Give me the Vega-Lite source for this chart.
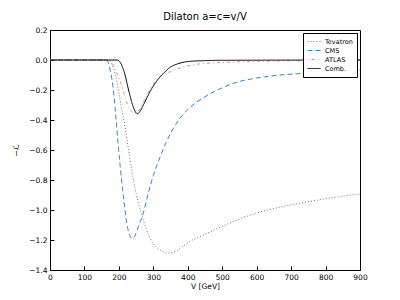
{
  "$schema": "https://vega.github.io/schema/vega-lite/v6.json",
  "width": 310,
  "height": 240,
  "autosize": "none",
  "padding": {"left": 50, "top": 30, "right": 40, "bottom": 30},
  "background": "white",
  "config": {
    "font": "DejaVu Sans",
    "view": {"stroke": "black", "strokeWidth": 1}
  },
  "title": {"text": "Dilaton a=c=v/V", "fontSize": 10, "fontWeight": "normal", "font": "DejaVu Sans", "offset": 4, "color": "black"},
  "data": {
    "values": [
      {"V": 0, "y": 0, "s": "Tevatron"},
      {"V": 160, "y": 0, "s": "Tevatron"},
      {"V": 170, "y": -0.003, "s": "Tevatron"},
      {"V": 180, "y": -0.03, "s": "Tevatron"},
      {"V": 190, "y": -0.1, "s": "Tevatron"},
      {"V": 200, "y": -0.22, "s": "Tevatron"},
      {"V": 210, "y": -0.35, "s": "Tevatron"},
      {"V": 218, "y": -0.45, "s": "Tevatron"},
      {"V": 228, "y": -0.6, "s": "Tevatron"},
      {"V": 237, "y": -0.73, "s": "Tevatron"},
      {"V": 250, "y": -0.89, "s": "Tevatron"},
      {"V": 260, "y": -0.98, "s": "Tevatron"},
      {"V": 271, "y": -1.067, "s": "Tevatron"},
      {"V": 285, "y": -1.16, "s": "Tevatron"},
      {"V": 300, "y": -1.225, "s": "Tevatron"},
      {"V": 320, "y": -1.268, "s": "Tevatron"},
      {"V": 343, "y": -1.287, "s": "Tevatron"},
      {"V": 365, "y": -1.275, "s": "Tevatron"},
      {"V": 387, "y": -1.24, "s": "Tevatron"},
      {"V": 400, "y": -1.218, "s": "Tevatron"},
      {"V": 435, "y": -1.178, "s": "Tevatron"},
      {"V": 480, "y": -1.13, "s": "Tevatron"},
      {"V": 531, "y": -1.078, "s": "Tevatron"},
      {"V": 600, "y": -1.02, "s": "Tevatron"},
      {"V": 650, "y": -0.99, "s": "Tevatron"},
      {"V": 726, "y": -0.955, "s": "Tevatron"},
      {"V": 800, "y": -0.925, "s": "Tevatron"},
      {"V": 900, "y": -0.893, "s": "Tevatron"},

      {"V": 0, "y": 0, "s": "CMS"},
      {"V": 160, "y": 0, "s": "CMS"},
      {"V": 168, "y": -0.01, "s": "CMS"},
      {"V": 174, "y": -0.06, "s": "CMS"},
      {"V": 180, "y": -0.13, "s": "CMS"},
      {"V": 185, "y": -0.22, "s": "CMS"},
      {"V": 192, "y": -0.4, "s": "CMS"},
      {"V": 203, "y": -0.69, "s": "CMS"},
      {"V": 213, "y": -0.91, "s": "CMS"},
      {"V": 223, "y": -1.09, "s": "CMS"},
      {"V": 230, "y": -1.16, "s": "CMS"},
      {"V": 238, "y": -1.19, "s": "CMS"},
      {"V": 246, "y": -1.175, "s": "CMS"},
      {"V": 255, "y": -1.12, "s": "CMS"},
      {"V": 271, "y": -1.02, "s": "CMS"},
      {"V": 285, "y": -0.89, "s": "CMS"},
      {"V": 300, "y": -0.77, "s": "CMS"},
      {"V": 320, "y": -0.645, "s": "CMS"},
      {"V": 339, "y": -0.54, "s": "CMS"},
      {"V": 372, "y": -0.405, "s": "CMS"},
      {"V": 400, "y": -0.33, "s": "CMS"},
      {"V": 450, "y": -0.245, "s": "CMS"},
      {"V": 500, "y": -0.185, "s": "CMS"},
      {"V": 547, "y": -0.145, "s": "CMS"},
      {"V": 600, "y": -0.12, "s": "CMS"},
      {"V": 660, "y": -0.102, "s": "CMS"},
      {"V": 726, "y": -0.09, "s": "CMS"},
      {"V": 800, "y": -0.079, "s": "CMS"},
      {"V": 900, "y": -0.068, "s": "CMS"},

      {"V": 0, "y": 0, "s": "ATLAS"},
      {"V": 170, "y": 0, "s": "ATLAS"},
      {"V": 180, "y": -0.02, "s": "ATLAS"},
      {"V": 190, "y": -0.067, "s": "ATLAS"},
      {"V": 200, "y": -0.12, "s": "ATLAS"},
      {"V": 208, "y": -0.17, "s": "ATLAS"},
      {"V": 218, "y": -0.25, "s": "ATLAS"},
      {"V": 232, "y": -0.33, "s": "ATLAS"},
      {"V": 245, "y": -0.355, "s": "ATLAS"},
      {"V": 255, "y": -0.345, "s": "ATLAS"},
      {"V": 271, "y": -0.28, "s": "ATLAS"},
      {"V": 290, "y": -0.2, "s": "ATLAS"},
      {"V": 310, "y": -0.13, "s": "ATLAS"},
      {"V": 348, "y": -0.08, "s": "ATLAS"},
      {"V": 387, "y": -0.047, "s": "ATLAS"},
      {"V": 435, "y": -0.026, "s": "ATLAS"},
      {"V": 484, "y": -0.018, "s": "ATLAS"},
      {"V": 581, "y": -0.01, "s": "ATLAS"},
      {"V": 726, "y": -0.005, "s": "ATLAS"},
      {"V": 900, "y": -0.003, "s": "ATLAS"},

      {"V": 0, "y": 0, "s": "Comb."},
      {"V": 195, "y": 0, "s": "Comb."},
      {"V": 203, "y": -0.013, "s": "Comb."},
      {"V": 210, "y": -0.045, "s": "Comb."},
      {"V": 218, "y": -0.1, "s": "Comb."},
      {"V": 225, "y": -0.17, "s": "Comb."},
      {"V": 232, "y": -0.235, "s": "Comb."},
      {"V": 242, "y": -0.315, "s": "Comb."},
      {"V": 254, "y": -0.358, "s": "Comb."},
      {"V": 262, "y": -0.34, "s": "Comb."},
      {"V": 271, "y": -0.3, "s": "Comb."},
      {"V": 290, "y": -0.213, "s": "Comb."},
      {"V": 310, "y": -0.14, "s": "Comb."},
      {"V": 330, "y": -0.088, "s": "Comb."},
      {"V": 348, "y": -0.05, "s": "Comb."},
      {"V": 370, "y": -0.026, "s": "Comb."},
      {"V": 390, "y": -0.014, "s": "Comb."},
      {"V": 420, "y": -0.007, "s": "Comb."},
      {"V": 500, "y": -0.002, "s": "Comb."},
      {"V": 900, "y": 0, "s": "Comb."}
    ]
  },
  "layer": [
    {
      "mark": {"type": "line", "strokeWidth": 1, "interpolate": "monotone", "clip": true},
      "encoding": {
        "x": {
          "field": "V", "type": "quantitative",
          "scale": {"domain": [0, 900], "nice": false, "zero": false},
          "axis": {"title": "V [GeV]", "values": [0,100,200,300,400,500,600,700,800,900], "grid": false, "domain": false, "tickSize": -4, "tickColor": "black", "labelPadding": 7, "labelFontSize": 7.5, "labelColor": "black", "titleFontSize": 7.5, "titleFontWeight": "normal", "titleColor": "black", "titlePadding": 2, "labelFlush": false}
        },
        "y": {
          "field": "y", "type": "quantitative",
          "scale": {"domain": [-1.4, 0.2], "nice": false, "zero": false},
          "axis": {"title": "−ℒ", "values": [-1.4,-1.2,-1.0,-0.8,-0.6,-0.4,-0.2,0.0,0.2], "format": ".1f", "grid": false, "domain": false, "tickSize": -4, "tickColor": "black", "labelPadding": 7, "labelFontSize": 7.5, "labelColor": "black", "titleFontSize": 8, "titleFontWeight": "normal", "titleColor": "black", "titlePadding": 8, "labelFlush": false}
        },
        "color": {
          "field": "s", "type": "nominal",
          "scale": {"domain": ["Tevatron", "CMS", "ATLAS", "Comb."], "range": ["#707070", "#3f84c4", "#e88a8a", "#000000"]},
          "legend": {
            "title": null, "orient": "top-right", "offset": 3,
            "strokeColor": "black", "fillColor": "white", "padding": 4,
            "labelFontSize": 6.5, "labelColor": "black", "symbolType": "stroke",
            "symbolSize": 169, "symbolStrokeWidth": 1, "rowPadding": 0, "clipHeight": 9, "labelOffset": 4, "cornerRadius": 0
          }
        },
        "strokeDash": {
          "field": "s", "type": "nominal",
          "scale": {"domain": ["Tevatron", "CMS", "ATLAS", "Comb."], "range": [[1, 2], [5, 3], [1, 3, 3, 3], [1, 0]]},
          "legend": null
        },
        "order": {"field": "V", "type": "quantitative"}
      }
    },
    {
      "mark": {"type": "rule", "opacity": 0},
      "encoding": {}
    }
  ]
}
